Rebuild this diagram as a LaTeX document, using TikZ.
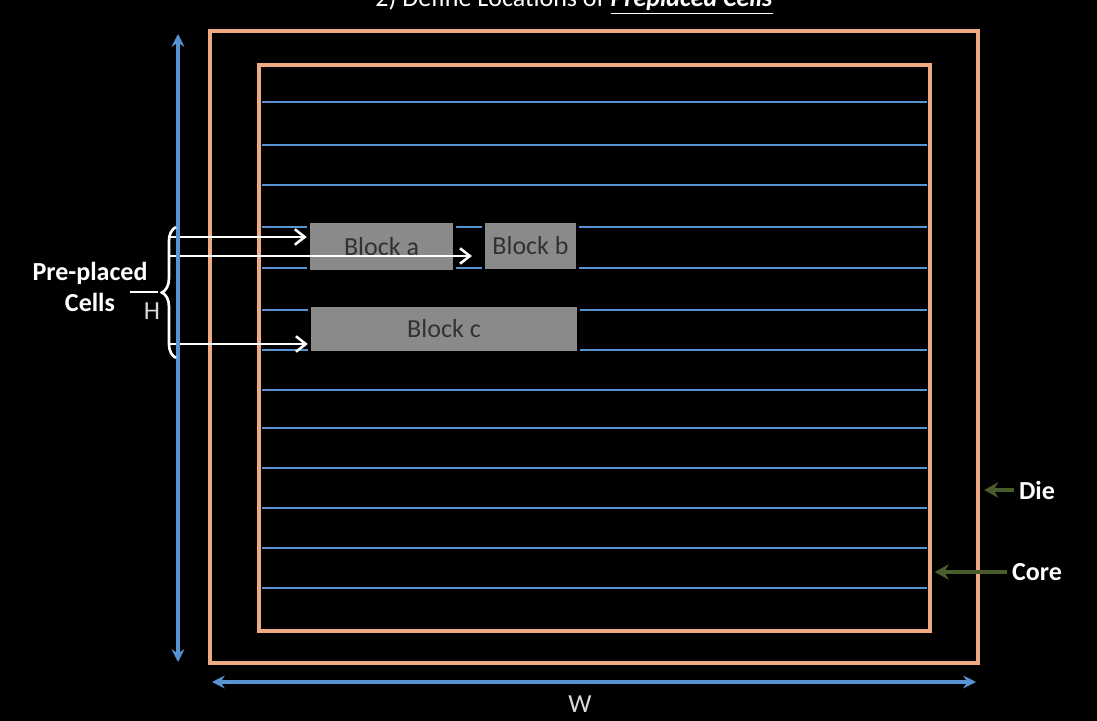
\documentclass[tikz,border=0pt]{standalone}
\usepackage{fontspec}
\setmainfont{Carlito}
\usetikzlibrary{positioning, arrows.meta, decorations.pathreplacing}
\definecolor{dieorange}{RGB}{238,170,130}
\definecolor{rowblue}{RGB}{88,148,212}
\definecolor{arrowgreen}{RGB}{72,92,44}
\definecolor{blockgray}{RGB}{138,138,138}
\definecolor{blocktext}{RGB}{50,50,50}

\begin{document}
\begin{tikzpicture}[x=0.025cm, y=-0.025cm,
    every node/.style={font=\fontsize{18.5}{22}\selectfont},
    outline/.style={draw=dieorange, line width=2.6pt, inner sep=0pt},
    row/.style={draw=rowblue, line width=1.9pt},
    block/.style={draw=black, line width=2.5pt, fill=blockgray, text=blocktext, inner sep=0pt},
    label/.style={text=white, font=\fontsize{18.5}{22}\selectfont\bfseries},
    dim/.style={text=white!85!black},
    feed/.style={-{Straight Barb[length=7pt, width=11pt, line width=1.8pt]}, draw=white, line width=2pt},
    measure/.style={{Stealth[length=9pt, width=9pt]}-{Stealth[length=9pt, width=9pt]}, draw=rowblue, line width=2.6pt},
    pointer/.style={-{Stealth[length=10pt, width=11pt]}, draw=arrowgreen, line width=2.6pt}
]
\fill[black] (0,0) rectangle (1097,721);
\clip (0,0) rectangle (1097,721);
\useasboundingbox (0,0) rectangle (1097,721);

% title, cut at the top edge
\node[text=white, anchor=base] (title) at (574,7) {2) Define Locations of \underline{\textbf{\textit{Preplaced Cells}}}};

% die and core
\node[outline, minimum width=19.2cm, minimum height=15.8cm] (die) at (594,347) {};
\node[outline, minimum width=16.775cm, minimum height=14.15cm] (core) at (594.5,348) {};

% standard cell rows
\foreach \y in {102,145,185,227,268,310,350,390,428,468,508,548,588}
    \draw[row] (262,\y) -- (927,\y);

% pre-placed blocks
\node[block, minimum width=3.65cm, minimum height=1.25cm] (blka) at (381.5,246.5) {Block a};
\node[block, minimum width=2.35cm, minimum height=1.25cm] (blkb) at (530.5,246) {Block b};
\node[block, minimum width=6.72cm, minimum height=1.17cm] (blkc) at (444,329) {Block c};

% feeds into the blocks
\coordinate (s1) at (170,237);
\coordinate (s2) at (170,256);
\coordinate (s3) at (170,344);
\draw[feed] (s1) -- (blka.west |- s1);
\draw[feed] (s2) -- ([xshift=-7pt]blkb.west |- s2);
\draw[feed] (s3) -- (blkc.west |- s3);

% height and width
\coordinate (htop) at (178,34);
\coordinate (hbot) at (178,662);
\draw[measure] (htop) -- (hbot);
\node[dim] (hlbl) at (152,311) {H};
\coordinate (wleft) at (212,682);
\coordinate (wright) at (976,682);
\draw[measure] (wleft) -- (wright);
\node[dim] (wlbl) at (580,704) {W};

% pre-placed cells brace
\node[label, align=center] (cells) at (90,287) {Pre-placed\\Cells};
\coordinate (bracebot) at (176,358);
\coordinate (bracetop) at (176,227);
\draw[white, line width=1.9pt, decorate, decoration={brace, amplitude=10pt}] (bracebot) -- (bracetop);
\coordinate (bracetip) at (158,292);
\coordinate (cellsend) at (130,292);
\draw[white, line width=1.9pt] (cellsend) -- (bracetip);

% die and core labels
\node[label] (dielbl) at (1037,490) {Die};
\node[label] (corelbl) at (1037,572) {Core};
\draw[pointer] (dielbl.west) -- ([xshift=3pt]die.east |- dielbl);
\draw[pointer] (corelbl.west) -- ([xshift=2pt]core.east |- corelbl);
\end{tikzpicture}
\end{document}
